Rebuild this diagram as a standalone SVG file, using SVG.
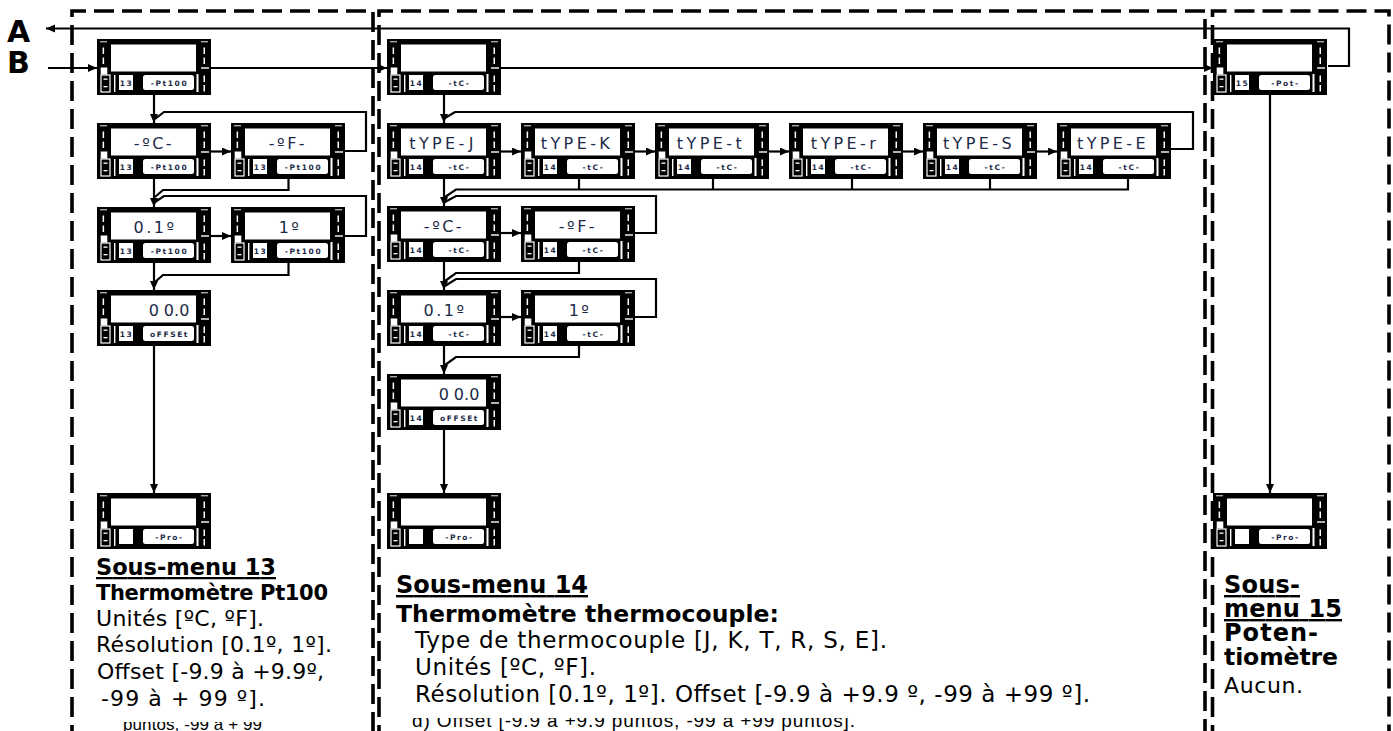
<svg xmlns="http://www.w3.org/2000/svg" xmlns:xlink="http://www.w3.org/1999/xlink" width="1393" height="731" viewBox="0 0 1393 731">
<style>
.frm{fill:none;stroke:#000;stroke-width:3.6;stroke-dasharray:20 8}
.w{font-family:"DejaVu Sans",sans-serif;font-size:16px;fill:#1c2a48;text-anchor:middle;letter-spacing:2.5px}
.ty{letter-spacing:3.4px}
.n{font-family:"DejaVu Sans",sans-serif;font-weight:bold;font-size:7.5px;fill:#1c2a48;text-anchor:middle;letter-spacing:1.6px}
.b{font-family:"DejaVu Sans",sans-serif;font-weight:bold;fill:#000}
.r{font-family:"DejaVu Sans",sans-serif;fill:#000}
.cut{font-family:"Liberation Sans",sans-serif;fill:#000}
.ab{font-family:"DejaVu Sans",sans-serif;font-weight:bold;font-size:30px;fill:#000}
</style>
<defs>
<marker id="ah" markerUnits="userSpaceOnUse" markerWidth="10" markerHeight="9" refX="9" refY="4" orient="auto">
<path d="M0,0 L9,4 L0,8 z" fill="#000"/>
</marker>
<g id="frame">
<rect width="114" height="56" fill="#000"/>
<rect x="14" y="5.5" width="85" height="27" fill="#fff"/>
<rect x="3" y="2" width="7" height="1.4" fill="#aaa"/>
<rect x="104" y="2" width="7" height="1.4" fill="#aaa"/>
<g fill="#fff">
<rect x="5.6" y="8.5" width="1.5" height="6.5"/>
<rect x="5.6" y="18.5" width="1.5" height="6.5"/>
<rect x="3.7" y="28.5" width="6.6" height="7"/>
<rect x="6.5" y="39.5" width="4" height="1.3"/>
<rect x="6.5" y="47" width="4" height="1.3"/>
<rect x="17" y="36" width="1.4" height="17"/>
<rect x="22" y="36" width="14" height="15"/>
<rect x="46" y="36" width="51" height="15" rx="2.5"/>
<rect x="99.5" y="35" width="2" height="18"/>
<rect x="106.5" y="8.5" width="1.5" height="6.5"/>
<rect x="106.5" y="18.5" width="1.5" height="6.5"/>
<rect x="104" y="28.3" width="8" height="1.4"/>
<rect x="106.5" y="36.5" width="1.5" height="6.5"/>
<rect x="106.5" y="46" width="1.5" height="6.5"/>
</g>
<rect x="4" y="36" width="9" height="17" fill="none" stroke="#fff" stroke-width="1.2"/>
</g>
<clipPath id="cut"><rect x="0" y="718" width="1393" height="20"/></clipPath>
<clipPath id="cutL"><rect x="0" y="722" width="1393" height="20"/></clipPath>
</defs>
<rect width="1393" height="731" fill="#fff"/>

<g id="panels">
<path class="frm" d="M72,745 V11 H373 V745"/>
<path class="frm" d="M379,745 V11 H1205 V745"/>
<path class="frm" d="M1212.5,745 V11 H1389 V745"/>
</g>

<g id="connectors" fill="none" stroke="#000" stroke-width="2.2">
<path d="M1328,66 H1349 V28.5 H46" marker-end="url(#ah)"/>
<path d="M48,68 H97" marker-end="url(#ah)"/>
<path d="M211,68 H387" marker-end="url(#ah)"/>
<path d="M501,68 H1213" marker-end="url(#ah)"/>
<path d="M154,95 V123" marker-end="url(#ah)"/>
<path d="M345,151 H366 V112 H164 L155,119"/>
<path d="M211,151.5 H231" marker-end="url(#ah)"/>
<path d="M154,179 V207" marker-end="url(#ah)"/>
<path d="M288.5,179 V190 H163 L155,197"/>
<path d="M345,236 H366 V196 H164 L155,202"/>
<path d="M211,236 H231" marker-end="url(#ah)"/>
<path d="M154,263 V290" marker-end="url(#ah)"/>
<path d="M288.5,263 V275 H163 L155,282"/>
<path d="M154,346 V493" marker-end="url(#ah)"/>
<path d="M444,95 V123" marker-end="url(#ah)"/>
<path d="M1171,149 H1193 V112 H455 L445,118"/>
<path d="M501,151.5 H521" marker-end="url(#ah)"/>
<path d="M635,151.5 H655" marker-end="url(#ah)"/>
<path d="M769,151.5 H789" marker-end="url(#ah)"/>
<path d="M903,151.5 H923" marker-end="url(#ah)"/>
<path d="M1037,151.5 H1057" marker-end="url(#ah)"/>
<path d="M1128,179 V189.5 H456 L445,197 M579,179 V189.5 M713,179 V189.5 M852,179 V189.5 M990,179 V189.5"/>
<path d="M444,179 V206" marker-end="url(#ah)"/>
<path d="M635,233 H656 V196 H456 L445,202"/>
<path d="M501,233 H521" marker-end="url(#ah)"/>
<path d="M444,262 V290" marker-end="url(#ah)"/>
<path d="M579,262 V273 H456 L445,281"/>
<path d="M635,317 H656 V279 H456 L445,286"/>
<path d="M501,317 H521" marker-end="url(#ah)"/>
<path d="M444,346 V374" marker-end="url(#ah)"/>
<path d="M579,346 V357 H456 L445,365"/>
<path d="M444,430 V493" marker-end="url(#ah)"/>
<path d="M1270,95 V493" marker-end="url(#ah)"/>
</g>

<g id="n13" transform="translate(97,39)"><use href="#frame"/><text class="n" x="29.5" y="46.5">13</text><text class="n" x="72.5" y="46.5">-Pt100</text></g>
<g id="c1" transform="translate(97,123)"><use href="#frame"/><text class="w" x="57" y="26">-ºC-</text><text class="n" x="29.5" y="46.5">13</text><text class="n" x="72.5" y="46.5">-Pt100</text></g>
<g id="f1" transform="translate(231,123)"><use href="#frame"/><text class="w" x="57" y="26">-ºF-</text><text class="n" x="29.5" y="46.5">13</text><text class="n" x="72.5" y="46.5">-Pt100</text></g>
<g id="r01" transform="translate(97,207)"><use href="#frame"/><text class="w" x="58" y="26">0.1º</text><text class="n" x="29.5" y="46.5">13</text><text class="n" x="72.5" y="46.5">-Pt100</text></g>
<g id="r11" transform="translate(231,207)"><use href="#frame"/><text class="w" x="59" y="26">1º</text><text class="n" x="29.5" y="46.5">13</text><text class="n" x="72.5" y="46.5">-Pt100</text></g>
<g id="o1" transform="translate(97,290)"><use href="#frame"/><text class="w" x="72" y="26" style="letter-spacing:0">0<tspan dx="5">0.0</tspan></text><text class="n" x="29.5" y="46.5">13</text><text class="n" x="72.5" y="46.5">oFFSEt</text></g>
<g id="p1" transform="translate(97,493)"><use href="#frame"/><text class="n" x="72.5" y="46.5">-Pro-</text></g>

<g id="n14" transform="translate(387,39)"><use href="#frame"/><text class="n" x="29.5" y="46.5">14</text><text class="n" x="72.5" y="46.5">-tC-</text></g>
<g id="tj" transform="translate(387,123)"><use href="#frame"/><text class="w ty" x="56" y="26">tYPE-J</text><text class="n" x="29.5" y="46.5">14</text><text class="n" x="72.5" y="46.5">-tC-</text></g>
<g id="tk" transform="translate(521,123)"><use href="#frame"/><text class="w ty" x="56" y="26">tYPE-K</text><text class="n" x="29.5" y="46.5">14</text><text class="n" x="72.5" y="46.5">-tC-</text></g>
<g id="tt" transform="translate(655,123)"><use href="#frame"/><text class="w ty" x="56" y="26">tYPE-t</text><text class="n" x="29.5" y="46.5">14</text><text class="n" x="72.5" y="46.5">-tC-</text></g>
<g id="tr" transform="translate(789,123)"><use href="#frame"/><text class="w ty" x="56" y="26">tYPE-r</text><text class="n" x="29.5" y="46.5">14</text><text class="n" x="72.5" y="46.5">-tC-</text></g>
<g id="ts" transform="translate(923,123)"><use href="#frame"/><text class="w ty" x="56" y="26">tYPE-S</text><text class="n" x="29.5" y="46.5">14</text><text class="n" x="72.5" y="46.5">-tC-</text></g>
<g id="te" transform="translate(1057,123)"><use href="#frame"/><text class="w ty" x="56" y="26">tYPE-E</text><text class="n" x="29.5" y="46.5">14</text><text class="n" x="72.5" y="46.5">-tC-</text></g>
<g id="c2" transform="translate(387,206)"><use href="#frame"/><text class="w" x="57" y="26">-ºC-</text><text class="n" x="29.5" y="46.5">14</text><text class="n" x="72.5" y="46.5">-tC-</text></g>
<g id="f2" transform="translate(521,206)"><use href="#frame"/><text class="w" x="57" y="26">-ºF-</text><text class="n" x="29.5" y="46.5">14</text><text class="n" x="72.5" y="46.5">-tC-</text></g>
<g id="r02" transform="translate(387,290)"><use href="#frame"/><text class="w" x="58" y="26">0.1º</text><text class="n" x="29.5" y="46.5">14</text><text class="n" x="72.5" y="46.5">-tC-</text></g>
<g id="r12" transform="translate(521,290)"><use href="#frame"/><text class="w" x="59" y="26">1º</text><text class="n" x="29.5" y="46.5">14</text><text class="n" x="72.5" y="46.5">-tC-</text></g>
<g id="o2" transform="translate(387,374)"><use href="#frame"/><text class="w" x="72" y="26" style="letter-spacing:0">0<tspan dx="5">0.0</tspan></text><text class="n" x="29.5" y="46.5">14</text><text class="n" x="72.5" y="46.5">oFFSEt</text></g>
<g id="p2" transform="translate(387,493)"><use href="#frame"/><text class="n" x="72.5" y="46.5">-Pro-</text></g>

<g id="n15" transform="translate(1213,39)"><use href="#frame"/><text class="n" x="29.5" y="46.5">15</text><text class="n" x="72.5" y="46.5">-Pot-</text></g>
<g id="p3" transform="translate(1213,493)"><use href="#frame"/><text class="n" x="72.5" y="46.5">-Pro-</text></g>

<g id="labels">
<text class="ab" x="7" y="42">A</text>
<text class="ab" x="7" y="73">B</text>

<text class="b" x="96" y="575" font-size="22.5" textLength="180" text-decoration="underline">Sous-menu 13</text>
<text class="b" x="96" y="600" font-size="21" textLength="232">Thermomètre Pt100</text>
<text class="r" x="96" y="626" font-size="22" textLength="168">Unités [ºC, ºF].</text>
<text class="r" x="96" y="652" font-size="22" textLength="236">Résolution [0.1º, 1º].</text>
<text class="r" x="97" y="679" font-size="22" textLength="227">Offset [-9.9 à +9.9º,</text>
<text class="r" x="101" y="706" font-size="22" textLength="164">-99 à + 99 º].</text>
<text class="cut" x="123" y="730" font-size="17" textLength="139" clip-path="url(#cutL)">puntos, -99 à + 99</text>

<text class="b" x="396" y="593" font-size="24" textLength="192" text-decoration="underline">Sous-menu 14</text>
<text class="b" x="396" y="622" font-size="23.5" textLength="383">Thermomètre thermocouple:</text>
<text class="r" x="415" y="648" font-size="23" textLength="472">Type de thermocouple [J, K, T, R, S, E].</text>
<text class="r" x="415" y="675" font-size="23" textLength="181">Unités [ºC, ºF].</text>
<text class="r" x="415" y="702" font-size="23" textLength="675">Résolution [0.1º, 1º]. Offset [-9.9 à +9.9 º, -99 à +99 º].</text>
<text class="cut" x="412" y="727" font-size="19" textLength="443" clip-path="url(#cut)">d) Offset [-9.9 à +9.9 puntos, -99 à +99 puntos].</text>

<text class="b" x="1224" y="593" font-size="24" textLength="76" text-decoration="underline">Sous-</text>
<text class="b" x="1224" y="617" font-size="24" textLength="118" text-decoration="underline">menu 15</text>
<text class="b" x="1224" y="641" font-size="24" textLength="94">Poten-</text>
<text class="b" x="1224" y="665" font-size="23.5" textLength="114">tiomètre</text>
<text class="r" x="1224" y="693" font-size="22" textLength="79">Aucun.</text>
</g>
</svg>
